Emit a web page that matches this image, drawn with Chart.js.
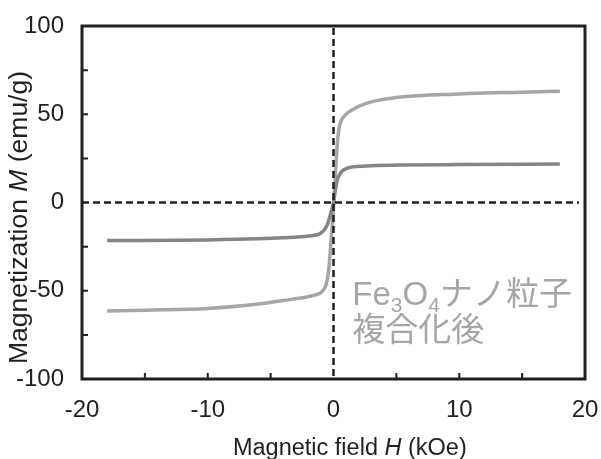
<!DOCTYPE html>
<html>
<head>
<meta charset="utf-8">
<script src="https://cdn.jsdelivr.net/npm/chart.js@4.4.1/dist/chart.umd.min.js"></script>
<style>
  html, body { margin: 0; padding: 0; background: #fff; }
  #wrap { width: 601px; height: 459px; }
</style>
</head>
<body>
<div id="wrap"><canvas id="mh-chart" width="601" height="459"></canvas></div>
<script>
// M-H curves (kOe, emu/g)
const fieldComposite = [-18, -15, -10, -6, -4, -2.5, -1.5, -1, -0.7, -0.5, -0.35, -0.2, 0, 0.2, 0.3, 0.4, 0.5, 0.7, 1, 1.5, 2, 3, 5, 10, 15, 18];
const magComposite = [-61.5, -61, -60, -57.5, -55.5, -54, -52.5, -51, -48.5, -44, -36, -22, -3, 22, 33, 40, 44, 47.5, 50, 52.5, 54.5, 57, 59.5, 61.5, 62.5, 63];

const fieldBase = [-18, -10, -6, -4, -2, -1, -0.5, -0.25, 0, 0.15, 0.3, 0.55, 0.8, 1.35, 3, 5.3, 10, 18];
const magBase = [-21.6, -21.2, -20.6, -20, -19, -17.3, -12.7, -7, 0, 7, 12.7, 16.6, 18.4, 20, 20.8, 21.2, 21.5, 21.8];

const xTickLabels = [-20, -10, 0, 10, 20];
const yTickLabels = [-100, -50, 0, 50, 100];
const xMinorTicks = [-15, -10, -5, 5, 10, 15];
const yMinorTicks = [-75, -50, -25, 25, 50, 75];

const ink = '#231f20';
const lightGray = '#a6a6a6';
const darkGray = '#858585';
const fontFamily = '"Liberation Sans", Arial, "Noto Sans CJK JP", sans-serif';

function toPoints(xs, ys) {
    return xs.map((x, i) => ({ x: x, y: ys[i] }));
}

// frame, inner ticks, dashed zero lines, titles and label
const framePlugin = {
    id: 'frame',
    afterDatasetsDraw(chart) {
        const ctx = chart.ctx;
        const a = chart.chartArea;
        const xs = chart.scales.x;
        const ys = chart.scales.y;
        ctx.save();

        // dashed zero lines
        ctx.strokeStyle = ink;
        ctx.lineWidth = 2.5;
        ctx.setLineDash([7, 4]);
        const x0 = xs.getPixelForValue(0);
        const y0 = ys.getPixelForValue(0);
        ctx.beginPath();
        ctx.moveTo(x0, a.top + 2);
        ctx.lineTo(x0, a.bottom);
        ctx.moveTo(a.left, y0);
        ctx.lineTo(a.right - 6, y0);
        ctx.stroke();
        ctx.setLineDash([]);

        // inner tick marks
        ctx.lineWidth = 2;
        ctx.beginPath();
        xMinorTicks.forEach(v => {
            const px = xs.getPixelForValue(v);
            ctx.moveTo(px, a.bottom);
            ctx.lineTo(px, a.bottom - 6);
        });
        yMinorTicks.forEach(v => {
            const py = ys.getPixelForValue(v);
            ctx.moveTo(a.left, py);
            ctx.lineTo(a.left + 6, py);
        });
        ctx.stroke();

        // box
        ctx.lineWidth = 3;
        ctx.strokeRect(a.left, a.top, a.right - a.left, a.bottom - a.top);

        // axis titles with italic symbol
        drawMixed(ctx, [
            ['Magnetic field ', 'normal'],
            ['H', 'italic'],
            [' (kOe)', 'normal']
        ], 23.5, xs.getPixelForValue(1.3), 455, 0);
        drawMixed(ctx, [
            ['Magnetization ', 'normal'],
            ['M', 'italic'],
            [' (emu/g)', 'normal']
        ], 26.5, 27, ys.getPixelForValue(-8.5), -Math.PI / 2);

        // sample label
        const lx = xs.getPixelForValue(1.5);
        const by = ys.getPixelForValue(-58);
        ctx.fillStyle = lightGray;
        ctx.textBaseline = 'alphabetic';
        ctx.textAlign = 'left';
        let cx = lx;
        const parts = [['Fe', 0], ['3', 1], ['O', 0], ['4', 1], ['ナノ粒子', 0]];
        parts.forEach(p => {
            const sub = p[1] === 1;
            ctx.font = (sub ? 21 : 33) + 'px ' + fontFamily;
            ctx.fillText(p[0], cx, sub ? by + 7 : by);
            cx += ctx.measureText(p[0]).width;
        });
        ctx.font = '33px ' + fontFamily;
        ctx.fillText('複合化後', lx, ys.getPixelForValue(-78.5));

        ctx.restore();
    }
};

function drawMixed(ctx, parts, size, cx, cy, angle) {
    ctx.save();
    ctx.translate(cx, cy);
    ctx.rotate(angle);
    ctx.fillStyle = ink;
    ctx.textBaseline = 'alphabetic';
    ctx.textAlign = 'left';
    let total = 0;
    parts.forEach(p => {
        ctx.font = p[1] + ' ' + size + 'px ' + fontFamily;
        total += ctx.measureText(p[0]).width;
    });
    let x = -total / 2;
    parts.forEach(p => {
        ctx.font = p[1] + ' ' + size + 'px ' + fontFamily;
        ctx.fillText(p[0], x, 0);
        x += ctx.measureText(p[0]).width;
    });
    ctx.restore();
}

const mhChart = new Chart(
    document.getElementById('mh-chart'),
    {
        type: 'line',
        data: {
            datasets: [
                {
                    label: 'base',
                    data: toPoints(fieldBase, magBase),
                    borderColor: darkGray,
                    borderWidth: 3.5,
                    pointRadius: 0,
                    cubicInterpolationMode: 'monotone',
                    fill: false
                },
                {
                    label: 'composite',
                    data: toPoints(fieldComposite, magComposite),
                    borderColor: lightGray,
                    borderWidth: 3.5,
                    pointRadius: 0,
                    cubicInterpolationMode: 'monotone',
                    fill: false
                }
            ]
        },
        options: {
            responsive: false,
            animation: false,
            events: [],
            layout: { padding: { top: 26, right: 16, left: 0, bottom: 0 } },
            plugins: {
                legend: { display: false },
                tooltip: { enabled: false }
            },
            scales: {
                x: {
                    type: 'linear',
                    min: -20,
                    max: 20,
                    afterBuildTicks: s => { s.ticks = xTickLabels.map(v => ({ value: v })); },
                    afterFit: s => { s.height = 80; s.paddingLeft = 0; s.paddingRight = 0; },
                    grid: { display: false, drawTicks: false },
                    border: { display: false },
                    ticks: {
                        color: ink,
                        padding: 17,
                        maxRotation: 0,
                        font: { family: fontFamily, size: 24 }
                    }
                },
                y: {
                    type: 'linear',
                    min: -100,
                    max: 100,
                    afterBuildTicks: s => { s.ticks = yTickLabels.map(v => ({ value: v })); },
                    afterFit: s => { s.width = 82; s.paddingTop = 0; s.paddingBottom = 0; },
                    grid: { display: false, drawTicks: false },
                    border: { display: false },
                    ticks: {
                        color: ink,
                        padding: 18,
                        font: { family: fontFamily, size: 24 }
                    }
                }
            }
        },
        plugins: [framePlugin]
    }
);
</script>
</body>
</html>
